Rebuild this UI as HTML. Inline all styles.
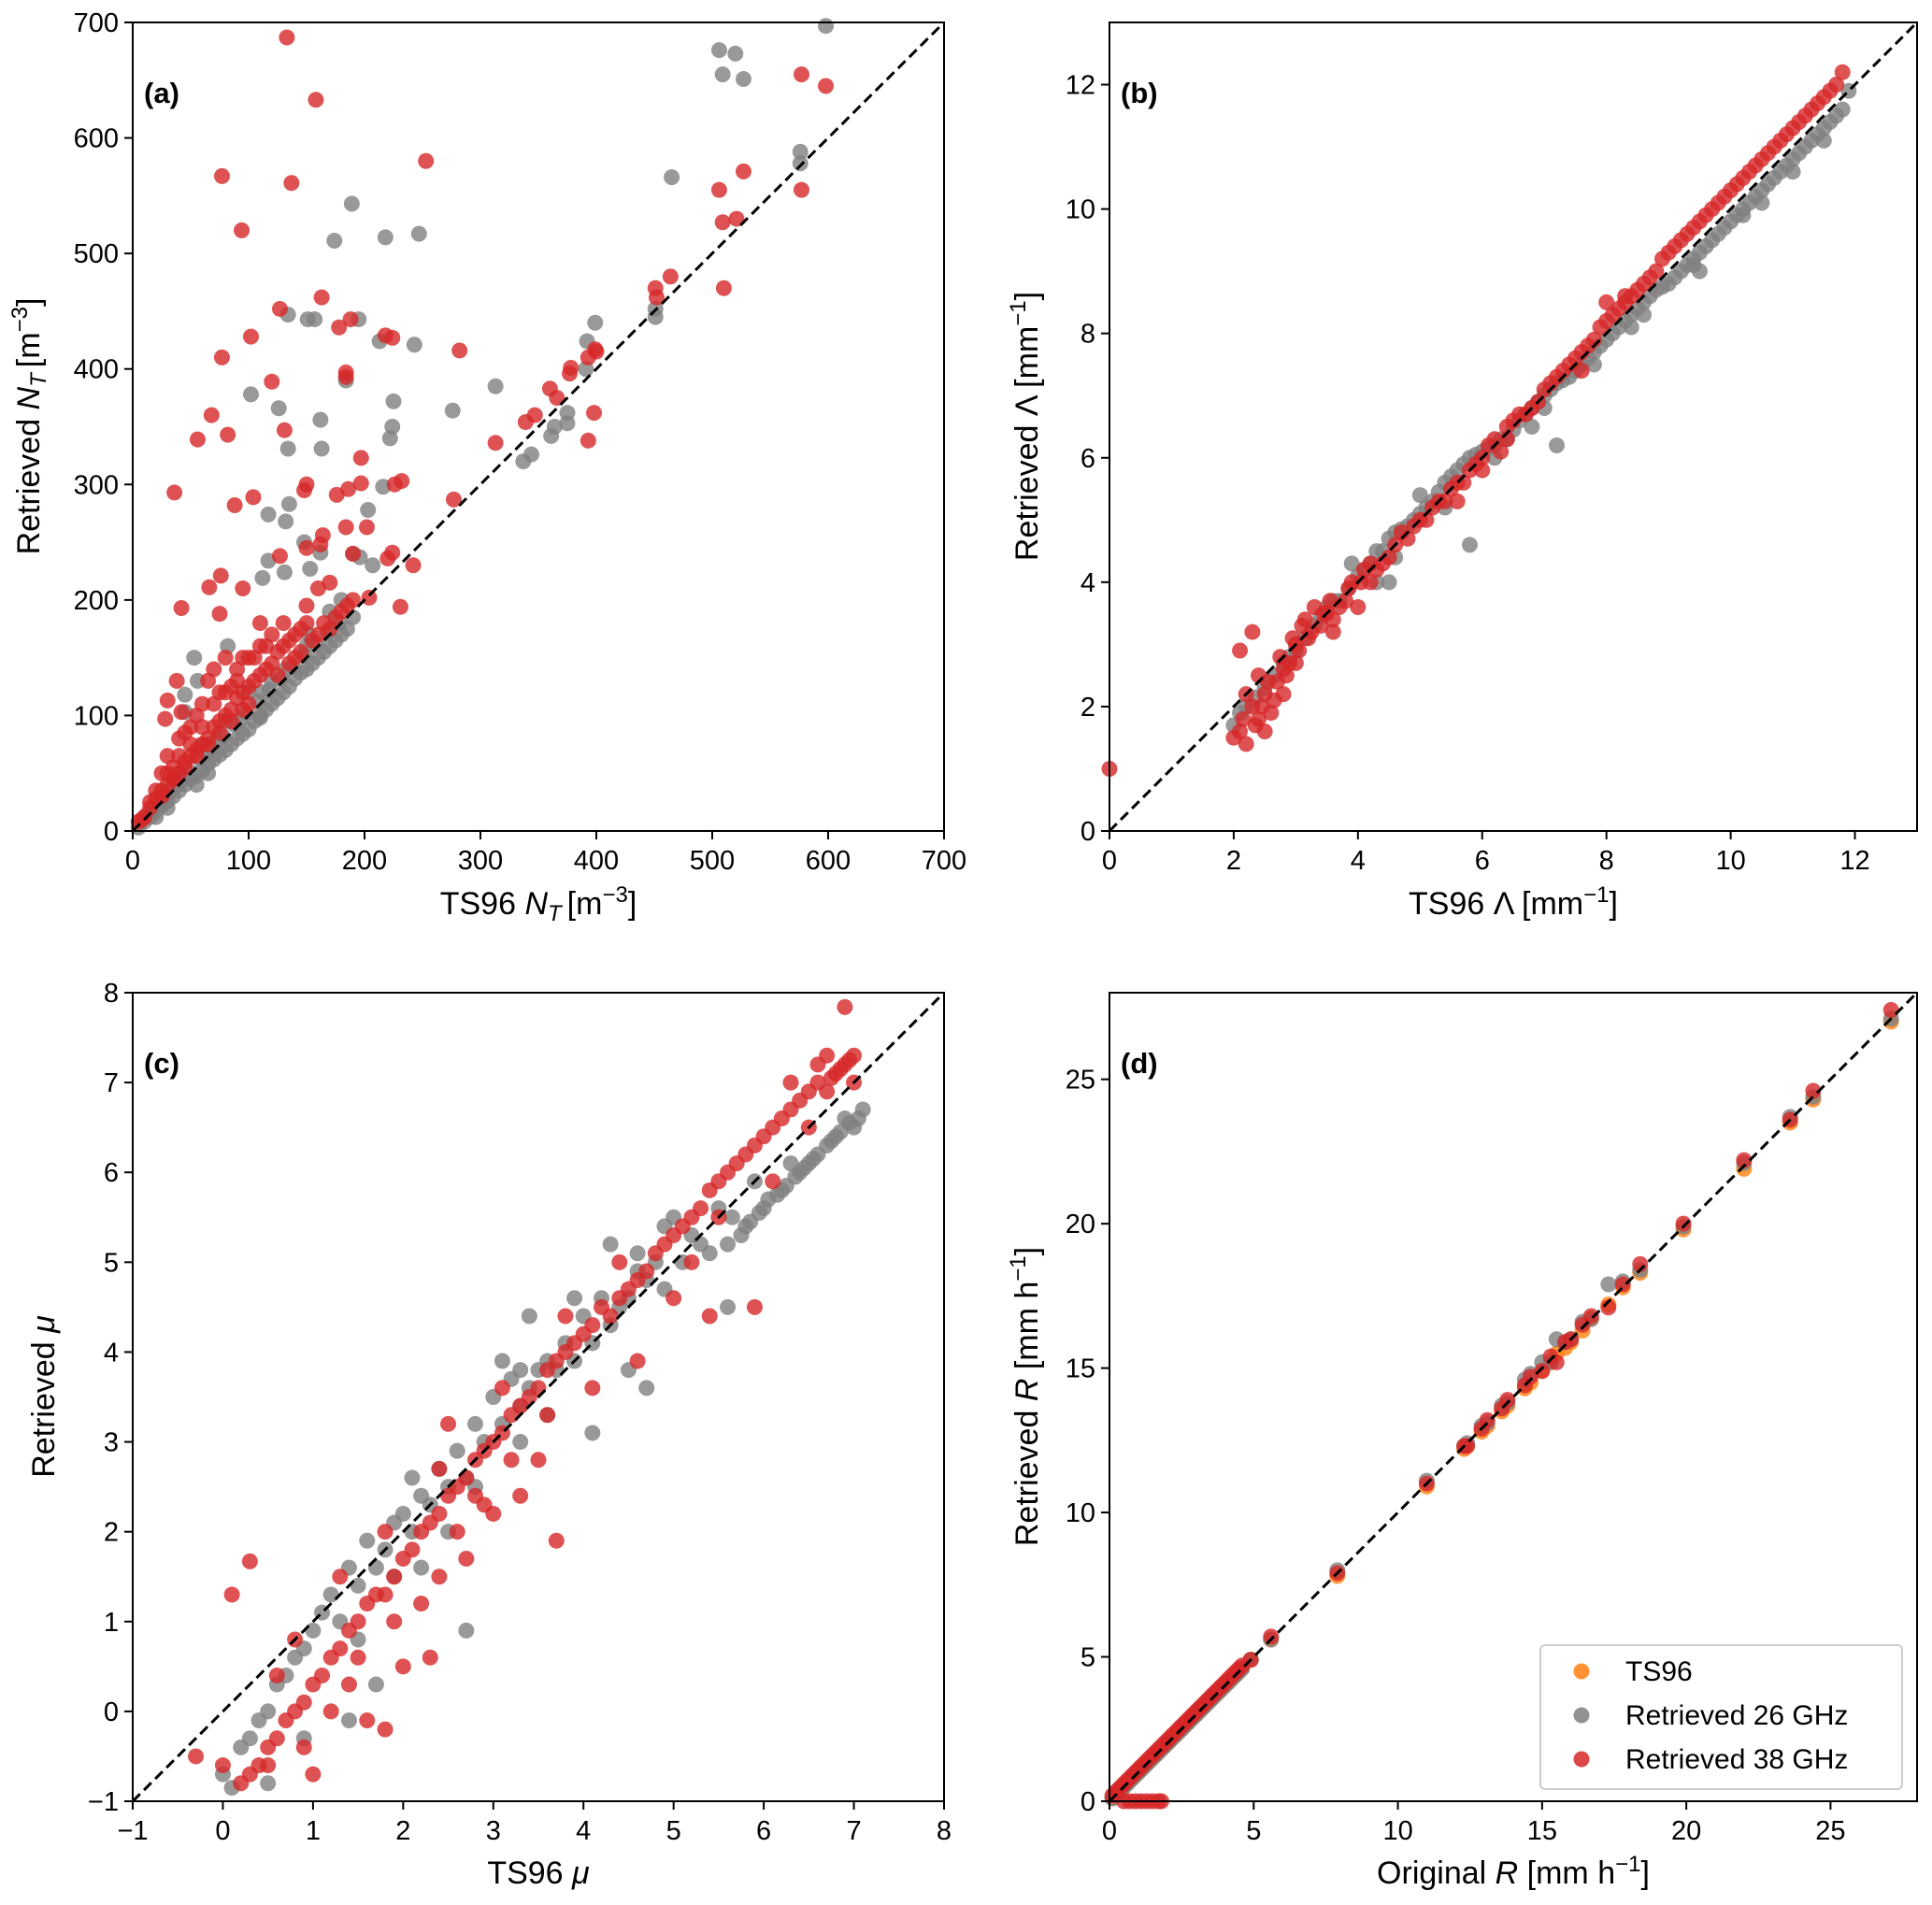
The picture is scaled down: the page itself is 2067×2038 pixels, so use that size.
<!DOCTYPE html>
<html><head><meta charset="utf-8">
<style>
html,body{margin:0;padding:0;background:#fff;}
svg{display:block;font-family:"Liberation Sans","DejaVu Sans",sans-serif;}
</style></head>
<body>
<svg id="fig" width="2067" height="2038" xmlns="http://www.w3.org/2000/svg"></svg>
<script>
// ---------- DATA ----------
const aGray=[[598,697],[506,676],[520,673],[509,655],[527,651],[576,588],[576,578],[465,566],[189,543],[174,511],[218,514],[247,517],[134,447],[151,443],[157,443],[195,443],[213,424],[243,421],[184,390],[225,372],[102,378],[126,366],[162,356],[224,350],[222,340],[134,331],[163,331],[276,364],[313,385],[337,320],[344,326],[361,342],[364,350],[375,353],[375,362],[392,424],[399,440],[391,400],[451,452],[451,445],[216,298],[203,278],[135,283],[117,274],[132,268],[190,240],[196,237],[207,230],[153,227],[162,241],[117,234],[112,219],[131,224],[148,250],[82,160],[53,150],[56,130],[45,118],[45,103],
[10,8],[15,12],[20,17],[25,22],[30,26],[35,30],[40,35],[45,40],[50,45],[55,48],[60,52],[65,58],[70,62],[75,66],[80,70],[85,75],[90,80],[95,84],[100,88],[105,95],[110,98],[115,105],[120,110],[125,115],[130,120],[135,125],[140,132],[145,137],[150,140],[155,145],[160,150],[165,155],[170,160],[175,165],[180,170],[185,175],[190,185],[120,130],[100,120],[80,95],[60,75],[40,50],[150,160],[170,190],[180,200],[110,100],[55,40],[65,50],[30,20],[20,12],[5,3],
[12,14],[18,20],[28,30],[38,40],[48,52],[58,62],[68,72],[78,82],[88,92],[98,102],[108,112],[118,122],[128,132],[138,142],[148,152],[158,162],[168,172],[178,180],[72,78],[92,96],[112,120],[132,140],[152,170],[62,66],[42,44],[32,34],[22,24]];
const aRed=[[133,687],[158,633],[77,567],[137,561],[253,580],[94,520],[163,462],[127,452],[102,428],[218,429],[224,427],[178,436],[188,443],[77,410],[120,389],[184,397],[184,393],[282,416],[68,360],[131,347],[82,343],[56,339],[36,293],[88,282],[104,289],[197,323],[150,300],[148,295],[176,291],[197,301],[186,296],[226,300],[232,303],[164,256],[162,248],[150,245],[184,263],[202,263],[127,238],[220,236],[224,241],[242,230],[231,194],[76,221],[66,211],[95,210],[42,193],[75,188],[204,202],[277,287],[313,336],[339,354],[347,360],[360,383],[366,375],[377,396],[378,401],[393,338],[398,362],[393,410],[400,415],[399,417],[451,470],[452,462],[464,480],[506,555],[509,527],[521,530],[527,571],[510,470],[577,655],[577,555],[598,645],
[10,12],[15,20],[20,28],[25,35],[25,50],[30,40],[30,65],[35,45],[35,55],[40,50],[40,80],[45,60],[45,85],[50,65],[50,90],[55,70],[55,100],[60,75],[60,110],[65,80],[65,130],[70,90],[70,140],[75,95],[75,120],[80,100],[80,150],[85,105],[85,125],[90,115],[90,140],[95,120],[95,150],[100,125],[100,150],[105,130],[110,135],[110,180],[115,140],[115,160],[120,145],[125,155],[130,160],[130,180],[135,165],[140,170],[140,150],[145,175],[150,180],[155,165],[160,170],[165,180],[170,175],[175,185],[180,190],[185,195],[190,200],[110,160],[105,150],[120,170],[60,90],[70,110],[80,120],[90,130],[50,75],[40,65],[30,50],[20,35],[15,25],[5,8],[8,10],[100,110],[95,105],[85,95],[75,85],[65,75],[55,65],[45,55],[35,45],[25,30],[125,135],[135,145],[145,155],[150,195],[160,210],[170,215],[190,240],[30,113],[28,97],[38,130],[42,103]];
const bGray=[[2.0,1.7],[2.2,2.0],[2.5,2.3],[2.8,2.7],[3.0,2.9],[3.3,3.3],[3.5,3.6],[3.7,3.7],[4.0,4.1],[4.2,4.3],[4.4,4.5],[4.6,4.8],[4.8,4.9],[5.0,5.1],[5.2,5.3],[5.4,5.6],[5.6,5.8],[5.8,6.0],[6.0,6.1],[6.2,6.2],[6.4,6.3],[6.6,6.6],[6.8,6.8],[7.0,7.0],[7.2,7.2],[7.4,7.3],[7.6,7.5],[7.8,7.7],[8.0,7.9],[8.2,8.1],[8.4,8.3],[8.6,8.5],[8.8,8.7],[9.0,8.8],[9.2,9.0],[9.4,9.2],[9.6,9.4],[9.8,9.6],[10.0,9.8],[10.2,10.0],[10.4,10.2],[10.6,10.4],[10.8,10.6],[11.0,10.8],[11.2,11.0],[11.4,11.2],[11.6,11.4],[11.8,11.6],[11.9,11.9],[5.8,4.6],[7.2,6.2],[8.4,8.1],[5.0,5.4],[4.5,4.0],[6.8,6.5],[3.9,4.3],[4.3,4.0],[9.5,9.0],[10.5,10.1],[11.5,11.1],
[2.1,1.9],[2.35,2.15],[2.65,2.5],[2.9,2.8],[3.15,3.1],[3.4,3.45],[3.6,3.7],[3.85,3.9],[4.1,4.2],[4.3,4.5],[4.5,4.7],[4.7,4.85],[4.9,5.0],[5.1,5.2],[5.3,5.45],[5.5,5.7],[5.7,5.9],[5.9,6.05],[6.1,6.15],[6.3,6.3],[6.5,6.45],[6.7,6.7],[6.9,6.9],[7.1,7.1],[7.3,7.25],[7.5,7.4],[7.7,7.6],[7.9,7.8],[8.1,8.0],[8.3,8.2],[8.5,8.4],[8.7,8.6],[8.9,8.75],[9.1,8.9],[9.3,9.1],[9.5,9.3],[9.7,9.5],[9.9,9.7],[10.1,9.9],[10.3,10.1],[10.5,10.3],[10.7,10.5],[10.9,10.7],[11.1,10.9],[11.3,11.1],[11.5,11.3],[11.7,11.5],[4.6,4.4],[5.4,5.2],[6.2,6.0],[7.0,6.8],[7.8,7.5],[8.6,8.3],[9.4,9.1],[10.2,9.9],[11.0,10.6]];
const bRed=[[0,1.0],[2.0,1.5],[2.1,1.6],[2.2,1.4],[2.1,2.9],[2.3,2.0],[2.4,1.8],[2.5,1.6],[2.5,2.2],[2.6,1.9],[2.7,2.4],[2.8,2.6],[2.9,2.7],[3.0,3.0],[3.1,3.3],[3.2,3.1],[3.3,3.6],[3.4,3.3],[3.5,3.5],[3.6,3.4],[3.8,3.7],[3.9,4.0],[4.0,3.6],[4.1,4.2],[4.3,4.2],[4.5,4.4],[4.7,4.8],[4.9,4.9],[5.1,5.0],[5.3,5.3],[5.5,5.5],[5.7,5.6],[5.9,5.9],[6.1,6.2],[6.3,6.1],[6.5,6.6],[6.7,6.7],[6.9,6.9],[7.1,7.2],[7.3,7.4],[7.5,7.6],[7.7,7.8],[7.9,8.1],[8.1,8.3],[8.3,8.5],[8.5,8.7],[8.7,8.9],[8.9,9.2],[9.1,9.4],[9.3,9.6],[9.5,9.8],[9.7,10.0],[9.9,10.2],[10.1,10.4],[10.3,10.6],[10.5,10.8],[10.7,11.0],[10.9,11.2],[11.1,11.4],[11.3,11.6],[11.5,11.8],[11.8,12.2],[3.6,3.2],[5.6,5.3],[6.0,5.8],[7.6,7.4],[2.2,2.2],[2.4,2.5],[3.0,2.7],[2.8,2.2],[4.2,4.0],[6.4,6.3],[2.3,3.2],
[2.15,1.8],[2.35,1.7],[2.45,2.0],[2.55,2.4],[2.65,2.1],[2.75,2.8],[2.85,2.5],[2.95,3.1],[3.05,2.9],[3.15,3.4],[3.25,3.2],[3.45,3.5],[3.55,3.7],[3.7,3.6],[3.85,3.9],[4.05,4.0],[4.2,4.3],[4.4,4.3],[4.6,4.6],[4.8,4.7],[5.0,5.0],[5.2,5.2],[5.4,5.3],[5.6,5.6],[5.8,5.8],[6.0,6.0],[6.2,6.3],[6.4,6.5],[6.6,6.7],[6.8,6.8],[7.0,7.1],[7.2,7.3],[7.4,7.5],[7.6,7.7],[7.8,7.9],[8.0,8.2],[8.2,8.4],[8.4,8.6],[8.6,8.8],[8.8,9.0],[9.0,9.3],[9.2,9.5],[9.4,9.7],[9.6,9.9],[9.8,10.1],[10.0,10.3],[10.2,10.5],[10.4,10.7],[10.6,10.9],[10.8,11.1],[11.0,11.3],[11.2,11.5],[11.4,11.7],[11.6,11.9],[11.7,12.0],[8.3,8.6],[8.0,8.5]];
const cGray=[[7.1,6.7],[7.0,6.5],[6.8,6.4],[6.6,6.2],[6.4,6.0],[6.2,5.8],[6.0,5.6],[5.8,5.4],[5.6,5.2],[5.4,5.1],[5.2,5.3],[5.0,5.5],[4.8,5.0],[4.6,4.9],[4.4,4.5],[4.2,4.6],[4.0,4.4],[3.8,4.1],[3.6,3.9],[3.4,3.6],[3.2,3.7],[3.0,3.5],[2.8,3.2],[2.6,2.9],[2.4,2.7],[2.2,2.4],[2.0,2.2],[1.8,1.8],[1.6,1.9],[1.4,1.6],[1.2,1.3],[1.0,0.9],[0.8,0.6],[0.6,0.3],[0.4,-0.1],[0.2,-0.4],[0.0,-0.7],[0.1,-0.85],[4.9,5.4],[4.3,5.2],[3.4,4.4],[4.5,3.8],[4.1,3.1],[4.7,3.6],[5.6,4.5],[2.7,0.9],[1.7,0.3],[1.4,-0.1],[0.9,-0.3],[0.5,-0.8],[3.1,3.9],[2.5,2.0],[1.9,1.5],[3.6,3.3],[5.9,5.9],[6.3,6.1],[6.9,6.6],[6.7,6.3],[6.5,6.1],[3.3,3.0],[2.1,2.6],
[7.05,6.6],[6.95,6.55],[6.85,6.45],[6.75,6.35],[6.55,6.15],[6.45,6.05],[6.35,5.95],[6.25,5.85],[6.15,5.75],[6.05,5.7],[5.95,5.55],[5.85,5.45],[5.75,5.3],[5.65,5.5],[5.5,5.6],[5.3,5.2],[5.1,5.0],[4.9,4.7],[4.7,4.8],[4.5,4.6],[4.3,4.3],[4.1,4.1],[3.9,3.9],[3.7,3.8],[3.5,3.8],[3.3,3.4],[3.1,3.2],[2.9,3.0],[2.7,2.6],[2.5,2.5],[2.3,2.3],[2.1,2.0],[1.9,2.1],[1.7,1.6],[1.5,1.4],[1.3,1.0],[1.1,1.1],[0.9,0.7],[0.7,0.4],[0.5,0.0],[0.3,-0.3],[3.3,3.8],[2.8,2.5],[3.9,4.6],[4.6,5.1],[2.2,1.6],[1.5,0.8]];
const cRed=[[7.0,7.3],[6.9,7.2],[6.8,7.1],[6.6,7.0],[6.4,6.8],[6.2,6.6],[6.0,6.4],[5.8,6.2],[5.6,6.0],[5.4,5.8],[5.2,5.5],[5.0,5.3],[4.8,5.1],[4.6,4.8],[4.4,4.6],[4.2,4.5],[4.0,4.2],[3.8,4.0],[3.6,3.8],[3.4,3.5],[3.2,3.3],[3.0,3.0],[2.8,2.8],[2.6,2.5],[2.4,2.2],[2.2,2.0],[2.0,1.7],[1.8,1.3],[1.6,1.2],[1.4,0.9],[1.2,0.6],[1.0,0.3],[0.8,0.0],[0.6,-0.3],[0.4,-0.6],[0.2,-0.8],[6.9,7.84],[0.1,1.3],[0.3,1.67],[3.7,1.9],[5.9,4.5],[5.4,4.4],[4.6,3.9],[2.9,2.3],[2.5,3.2],[2.3,0.6],[1.6,-0.1],[1.0,-0.7],[0.5,-0.6],[0.0,-0.6],[-0.3,-0.5],[3.3,2.4],[2.0,0.5],[1.5,0.6],[2.2,1.2],[2.7,1.7],[3.0,2.2],[3.5,2.8],[4.1,3.6],[5.0,4.6],[5.5,5.5],[6.5,6.5],[7.0,7.0],[6.1,5.9],[1.3,1.5],[1.8,2.0],[2.4,2.7],[3.1,3.6],[3.8,4.4],[4.4,5.0],[6.3,7.0],[6.7,7.3],[0.8,0.8],[1.2,0.0],[1.8,-0.2],[0.6,0.4],
[6.95,7.25],[6.85,7.15],[6.75,7.05],[6.7,6.9],[6.5,6.9],[6.3,6.7],[6.1,6.5],[5.9,6.3],[5.7,6.1],[5.5,5.9],[5.3,5.6],[5.1,5.4],[4.9,5.2],[4.7,4.9],[4.5,4.7],[4.3,4.4],[4.1,4.3],[3.9,4.1],[3.7,3.9],[3.5,3.6],[3.3,3.4],[3.1,3.1],[2.9,2.9],[2.7,2.6],[2.5,2.4],[2.3,2.1],[2.1,1.8],[1.9,1.5],[1.7,1.3],[1.5,1.0],[1.3,0.7],[1.1,0.4],[0.9,0.1],[0.7,-0.1],[0.5,-0.4],[0.3,-0.7],[2.6,2.0],[2.8,2.4],[3.2,2.8],[1.9,1.0],[1.4,0.3],[0.9,-0.4],[2.4,1.5],[3.6,3.3],[5.2,5.0],[6.6,7.2]];
const dOrig=[27.1,24.4,23.6,22.0,19.9,18.4,17.8,17.3,16.7,16.4,16.0,15.8,15.5,15.3,15.0,14.6,14.4,13.8,13.6,13.1,12.9,12.4,12.3,11.0,7.9,5.6,4.9,4.6,4.4,4.2,4.0,3.8,3.6,3.4,3.2,3.0,2.8,2.6,2.4,2.2,2.0,1.8,1.6,1.4,1.2,1.0,0.8,0.6,0.4,0.2,0.1,4.5,4.3,4.1,3.9,3.7,3.5,3.3,3.1,2.9,2.7,2.5,2.3,2.1,1.9,1.7,1.5,1.3,1.1,0.9,0.7,0.5,0.3];
const dTS96=[27.0,24.3,23.5,21.9,19.8,18.3,17.8,17.2,16.7,16.3,15.9,15.7,15.5,15.2,14.9,14.5,14.3,13.7,13.5,13.0,12.8,12.3,12.2,10.9,7.8,5.6,4.9,4.6,4.4,4.2,4.0,3.8,3.6,3.4,3.2,3.0,2.8,2.6,2.4,2.2,2.0,1.8,1.6,1.4,1.2,1.0,0.8,0.6,0.4,0.2,0.1,4.5,4.3,4.1,3.9,3.7,3.5,3.3,3.1,2.9,2.7,2.5,2.3,2.1,1.9,1.7,1.5,1.3,1.1,0.9,0.7,0.5,0.3];
const d26=[27.1,24.4,23.7,22.1,19.9,18.4,18.0,17.9,16.7,16.6,16.0,15.9,16.0,15.2,15.2,14.8,14.6,13.8,13.7,13.1,13.0,12.4,12.3,11.1,8.0,5.6,4.9,4.6,4.4,4.2,4.0,3.8,3.6,3.4,3.2,3.0,2.8,2.6,2.4,2.2,2.0,1.8,1.6,1.4,1.2,1.0,0.8,0.6,0.4,0.2,0.1,4.5,4.3,4.1,3.9,3.7,3.5,3.3,3.1,2.9,2.7,2.5,2.3,2.1,1.9,1.7,1.5,1.3,1.1,0.9,0.7,0.5,0.3];
const d38=[27.4,24.6,23.6,22.2,20.0,18.6,17.9,17.1,16.8,16.5,16.0,15.9,15.2,15.4,14.9,14.7,14.4,13.9,13.6,13.2,12.9,12.3,12.3,11.0,7.9,5.7,4.9,4.7,4.5,4.3,4.1,3.9,3.7,3.5,3.3,3.1,2.9,2.7,2.5,2.3,2.1,1.9,1.7,1.5,1.3,1.1,0.9,0.7,0.5,0.3,0.2,4.6,4.4,4.2,4.0,3.8,3.6,3.4,3.2,3.0,2.8,2.6,2.4,2.2,2.0,1.8,1.6,1.4,1.2,1.0,0.8,0.6,0.4];
const dZeroX=[0.5,0.7,0.9,1.1,1.3,1.5,1.7,1.8];
const dZeroY=[0,0,0,0,0,0,0,0];
const ticksA=[0,100,200,300,400,500,600,700];
const ticksB=[0,2,4,6,8,10,12];
const ticksC=[-1,0,1,2,3,4,5,6,7,8];
const ticksD=[0,5,10,15,20,25];

// ---------- DRAW ----------
const NS="http://www.w3.org/2000/svg";
const svg=document.getElementById('fig');
function mk(tag,attrs,parent){const e=document.createElementNS(NS,tag);for(const k in attrs)e.setAttribute(k,attrs[k]);(parent||svg).appendChild(e);return e;}
const GRAY='#7f7f7f',RED='#d62728',ORANGE='#ff7f0e';

function panel(id,L,T,W,H,lo,hi,ticks,fmt){
  const g=mk('g',{});
  
  
  const sx=v=>L+(v-lo)/(hi-lo)*W, sy=v=>T+H-(v-lo)/(hi-lo)*H;
  return {g,sx,sy,L,T,W,H,lo,hi,ticks,fmt,id};
}
function scatter(p,pts,color,name){
  const g=mk('g',{},p.g);
  
  
  pts.forEach(d=>{
    const c=mk('circle',{cx:p.sx(d[0]),cy:p.sy(d[1]),r:8.5,fill:color,'fill-opacity':0.8},g);
    
    
  });
}
function frame(p,label){
  const dl=mk('line',{x1:p.sx(p.lo),y1:p.sy(p.lo),x2:p.sx(p.hi),y2:p.sy(p.hi),stroke:'#000','stroke-width':3,'stroke-dasharray':'11,6'},p.g);
  
  
  const r=mk('rect',{x:p.L,y:p.T,width:p.W,height:p.H,fill:'none',stroke:'#000','stroke-width':2},p.g);
  
  
  p.ticks.forEach(t=>{
    const x=p.sx(t),y=p.sy(t);
    mk('line',{x1:x,y1:p.T+p.H,x2:x,y2:p.T+p.H+9,stroke:'#000','stroke-width':2},p.g);
    const tx=mk('text',{x:x,y:p.T+p.H+41,'text-anchor':'middle','font-size':29},p.g);
    tx.textContent=p.fmt(t);
    
    
    mk('line',{x1:p.L-9,y1:y,x2:p.L,y2:y,stroke:'#000','stroke-width':2},p.g);
    const ty=mk('text',{x:p.L-15,y:y+10,'text-anchor':'end','font-size':29},p.g);
    ty.textContent=p.fmt(t);
    
    
  });
  const pl=mk('text',{x:p.L+12,y:p.T+86,'font-size':31,'font-weight':'bold'},p.g);
  pl.textContent=label;
  
  
}
function fmtMinus(t){return t<0?'\u2212'+(-t):''+t;}
function axLabel(p,which,x,y,html){
  const attrs={'font-size':34,'text-anchor':'middle',x:x,y:y};
  if(which==='y') attrs.transform='rotate(-90 '+x+' '+y+')';
  const t=mk('text',attrs,p.g);
  t.innerHTML=html;
  
  
}

// Panel a
const pa=panel('a',142,24,868,865,0,700,ticksA,String);
scatter(pa,aGray,GRAY,'series-26ghz');
scatter(pa,aRed,RED,'series-38ghz');
frame(pa,'(a)');
axLabel(pa,'x',576,978,'TS96 <tspan font-style="italic">N</tspan><tspan font-style="italic" font-size="24" dy="7">T</tspan><tspan dx="6" dy="-7">[m</tspan><tspan font-size="24" dy="-13">−3</tspan><tspan dy="13">]</tspan>');
axLabel(pa,'y',42,456,'Retrieved <tspan font-style="italic">N</tspan><tspan font-style="italic" font-size="24" dy="7">T</tspan><tspan dx="6" dy="-7">[m</tspan><tspan font-size="24" dy="-13">−3</tspan><tspan dy="13">]</tspan>');

// Panel b
const pb=panel('b',1187,24,864,865,0,13,ticksB,String);
scatter(pb,bGray,GRAY,'series-26ghz');
scatter(pb,bRed,RED,'series-38ghz');
frame(pb,'(b)');
axLabel(pb,'x',1619,978,'TS96 Λ [mm<tspan font-size="24" dy="-13">−1</tspan><tspan dy="13">]</tspan>');
axLabel(pb,'y',1110,456,'Retrieved Λ [mm<tspan font-size="24" dy="-13">−1</tspan><tspan dy="13">]</tspan>');

// Panel c
const pc=panel('c',142,1062,868,865,-1,8,ticksC,fmtMinus);
scatter(pc,cGray,GRAY,'series-26ghz');
scatter(pc,cRed,RED,'series-38ghz');
frame(pc,'(c)');
axLabel(pc,'x',576,2015,'TS96 <tspan font-style="italic">μ</tspan>');
axLabel(pc,'y',58,1494,'Retrieved <tspan font-style="italic">μ</tspan>');

// Panel d
const pd=panel('d',1187,1062,864,865,0,28,ticksD,String);
const zip=(xs,ys)=>xs.map((x,i)=>[x,ys[i]]);
scatter(pd,zip(dOrig,dTS96),ORANGE,'series-ts96');
scatter(pd,zip(dOrig,d26),GRAY,'series-26ghz');
scatter(pd,zip(dOrig,d38).concat(zip(dZeroX,dZeroY)),RED,'series-38ghz');
frame(pd,'(d)');
axLabel(pd,'x',1619,2015,'Original <tspan font-style="italic">R</tspan> [mm h<tspan font-size="24" dy="-13">−1</tspan><tspan dy="13">]</tspan>');
axLabel(pd,'y',1110,1494,'Retrieved <tspan font-style="italic">R</tspan> [mm h<tspan font-size="24" dy="-13">−1</tspan><tspan dy="13">]</tspan>');

// Legend
const lg=mk('g',{});


mk('rect',{x:1648,y:1760,width:387,height:154,rx:5,fill:'#fff','fill-opacity':0.85,stroke:'#ccc','stroke-width':2},lg);
const legNames=['TS96','Retrieved 26 GHz','Retrieved 38 GHz'];
const legCols=[ORANGE,GRAY,RED];
legNames.forEach((n,i)=>{
  const y=1788+i*47;
  const e=mk('g',{},lg);
  
  
  mk('circle',{cx:1692,cy:y,r:8.5,fill:legCols[i],'fill-opacity':0.85},e);
  const t=mk('text',{x:1739,y:y+10,'font-size':30},e);
  t.textContent=n;
});
</script>
</body></html>
